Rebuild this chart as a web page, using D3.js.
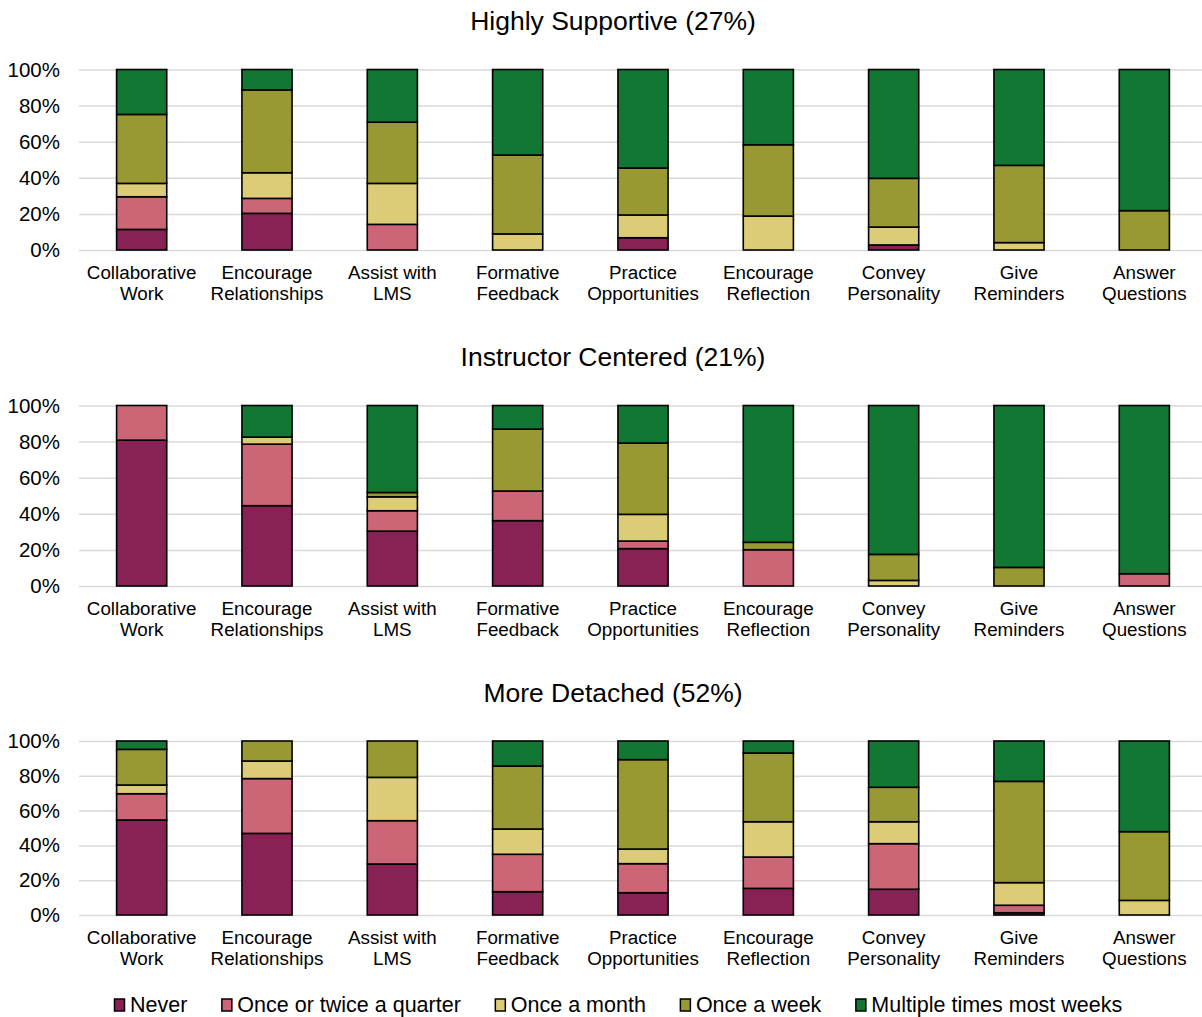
<!DOCTYPE html>
<html>
<head>
<meta charset="utf-8">
<script src="https://cdn.jsdelivr.net/npm/d3@7/dist/d3.min.js"></script>
<style>
  html, body { margin: 0; padding: 0; background: #fff; }
  svg { display: block; font-family: "Liberation Sans", Arial, sans-serif; }
</style>
</head>
<body>
<svg id="chart" width="1202" height="1017"></svg>
<script>
// Categories shown along each x axis (two lines per label)
const categories = [
  ["Collaborative", "Work"],
  ["Encourage", "Relationships"],
  ["Assist with", "LMS"],
  ["Formative", "Feedback"],
  ["Practice", "Opportunities"],
  ["Encourage", "Reflection"],
  ["Convey", "Personality"],
  ["Give", "Reminders"],
  ["Answer", "Questions"]
];

// Response frequencies (stack order, bottom to top)
const seriesNames = ["Never", "Once or twice a quarter", "Once a month", "Once a week", "Multiple times most weeks"];
const seriesColors = ["#882255", "#CC6677", "#DDCC77", "#999933", "#117733"];

// Percent of respondents per category, one row per category, columns follow seriesNames
const highlySupportive = [
  [11.4, 18.1, 7.4, 38.2, 24.9],
  [20.3, 8.3, 14.2, 45.9, 11.3],
  [0, 14.2, 22.7, 33.9, 29.2],
  [0, 0, 8.9, 43.7, 47.4],
  [6.8, 0, 12.6, 26.0, 54.6],
  [0, 0, 18.8, 39.5, 41.7],
  [2.8, 0, 9.9, 27.0, 60.3],
  [0, 0, 4.1, 42.8, 53.1],
  [0, 0, 0, 21.8, 78.2]
];
const instructorCentered = [
  [80.8, 19.2, 0, 0, 0],
  [44.5, 34.1, 3.9, 0, 17.5],
  [30.4, 11.3, 7.7, 2.4, 48.2],
  [36.2, 16.4, 0, 34.3, 13.1],
  [20.7, 4.2, 14.8, 39.5, 20.8],
  [0, 20.1, 0, 4.1, 75.8],
  [0, 0, 3.1, 14.4, 82.5],
  [0, 0, 0, 10.3, 89.7],
  [0, 6.8, 0, 0, 93.2]
];
const moreDetached = [
  [54.6, 15.1, 5.0, 20.5, 4.8],
  [46.9, 31.5, 10.1, 11.5, 0],
  [29.3, 24.9, 24.9, 20.9, 0],
  [13.4, 21.5, 14.5, 36.2, 14.4],
  [12.8, 16.7, 8.4, 51.4, 10.7],
  [15.3, 18.0, 20.3, 39.5, 6.9],
  [14.8, 26.2, 12.6, 19.8, 26.6],
  [1.3, 4.3, 13.0, 58.2, 23.2],
  [0, 0, 8.4, 39.5, 52.1]
];

const panelTitles = ["Highly Supportive (27%)", "Instructor Centered (21%)", "More Detached (52%)"];
const yTicks = [0, 20, 40, 60, 80, 100];

const panels = [
  { title: panelTitles[0], data: highlySupportive, top: 69.5, bottom: 250, titleY: 30 },
  { title: panelTitles[1], data: instructorCentered, top: 405.5, bottom: 586, titleY: 366 },
  { title: panelTitles[2], data: moreDetached, top: 741, bottom: 915, titleY: 702 }
];

const svg = d3.select("#chart");
const W = 1202;
const plotLeft = 79, plotRight = 1207;

const x = d3.scaleBand()
  .domain(d3.range(categories.length))
  .range([plotLeft, plotRight])
  .paddingInner(0.6)
  .paddingOuter(0.3);

const stack = d3.stack().keys(d3.range(seriesNames.length));

panels.forEach(p => {
  const g = svg.append("g");
  const y = d3.scaleLinear().domain([0, 100]).range([p.bottom, p.top]);

  // title
  g.append("text")
    .attr("x", 613)
    .attr("y", p.titleY)
    .attr("text-anchor", "middle")
    .attr("font-size", 26.5)
    .attr("fill", "#000")
    .text(p.title);

  // gridlines + y tick labels
  const yAxis = d3.axisLeft(y)
    .tickValues(yTicks)
    .tickSize(-(W - plotLeft))
    .tickFormat(d => d + "%");
  const ya = g.append("g")
    .attr("transform", `translate(${plotLeft},0)`)
    .call(yAxis);
  ya.select(".domain").remove();
  ya.selectAll(".tick line")
    .attr("stroke", "#d9d9d9")
    .attr("stroke-width", 1.5);
  ya.selectAll(".tick text")
    .attr("x", -19)
    .attr("font-size", 20.5)
    .attr("fill", "#000")
    .attr("font-family", "Liberation Sans, Arial, sans-serif");

  // stacked bars
  const stacked = stack(p.data);
  stacked.forEach((layer, si) => {
    g.append("g")
      .selectAll("rect")
      .data(layer.map((d, i) => ({ i, y0: d[0], y1: d[1] })).filter(d => d.y1 - d.y0 > 0))
      .join("rect")
      .attr("x", d => x(d.i))
      .attr("width", x.bandwidth())
      .attr("y", d => y(d.y1))
      .attr("height", d => y(d.y0) - y(d.y1))
      .attr("fill", seriesColors[si])
      .attr("stroke", "#000")
      .attr("stroke-width", 1.6);
  });

  // category labels
  const xl = g.append("g");
  categories.forEach((lines, i) => {
    const t = xl.append("text")
      .attr("x", x(i) + x.bandwidth() / 2)
      .attr("y", p.bottom + 29)
      .attr("text-anchor", "middle")
      .attr("font-size", 18.8)
      .attr("fill", "#000");
    lines.forEach((ln, k) => {
      t.append("tspan")
        .attr("x", x(i) + x.bandwidth() / 2)
        .attr("dy", k === 0 ? 0 : 21)
        .text(ln);
    });
  });
});

// legend
const legend = svg.append("g").attr("transform", "translate(114,1012)");
let cx = 0;
seriesNames.forEach((name, i) => {
  const item = legend.append("g").attr("transform", `translate(${cx},0)`);
  item.append("rect")
    .attr("x", 0.5)
    .attr("y", -13)
    .attr("width", 10)
    .attr("height", 12)
    .attr("fill", seriesColors[i])
    .attr("stroke", "#000")
    .attr("stroke-width", 1.5);
  const t = item.append("text")
    .attr("x", 16)
    .attr("y", 0)
    .attr("font-size", 21.5)
    .attr("fill", "#000")
    .text(name);
  cx += 16 + t.node().getComputedTextLength() + 34;
});
</script>
</body>
</html>
